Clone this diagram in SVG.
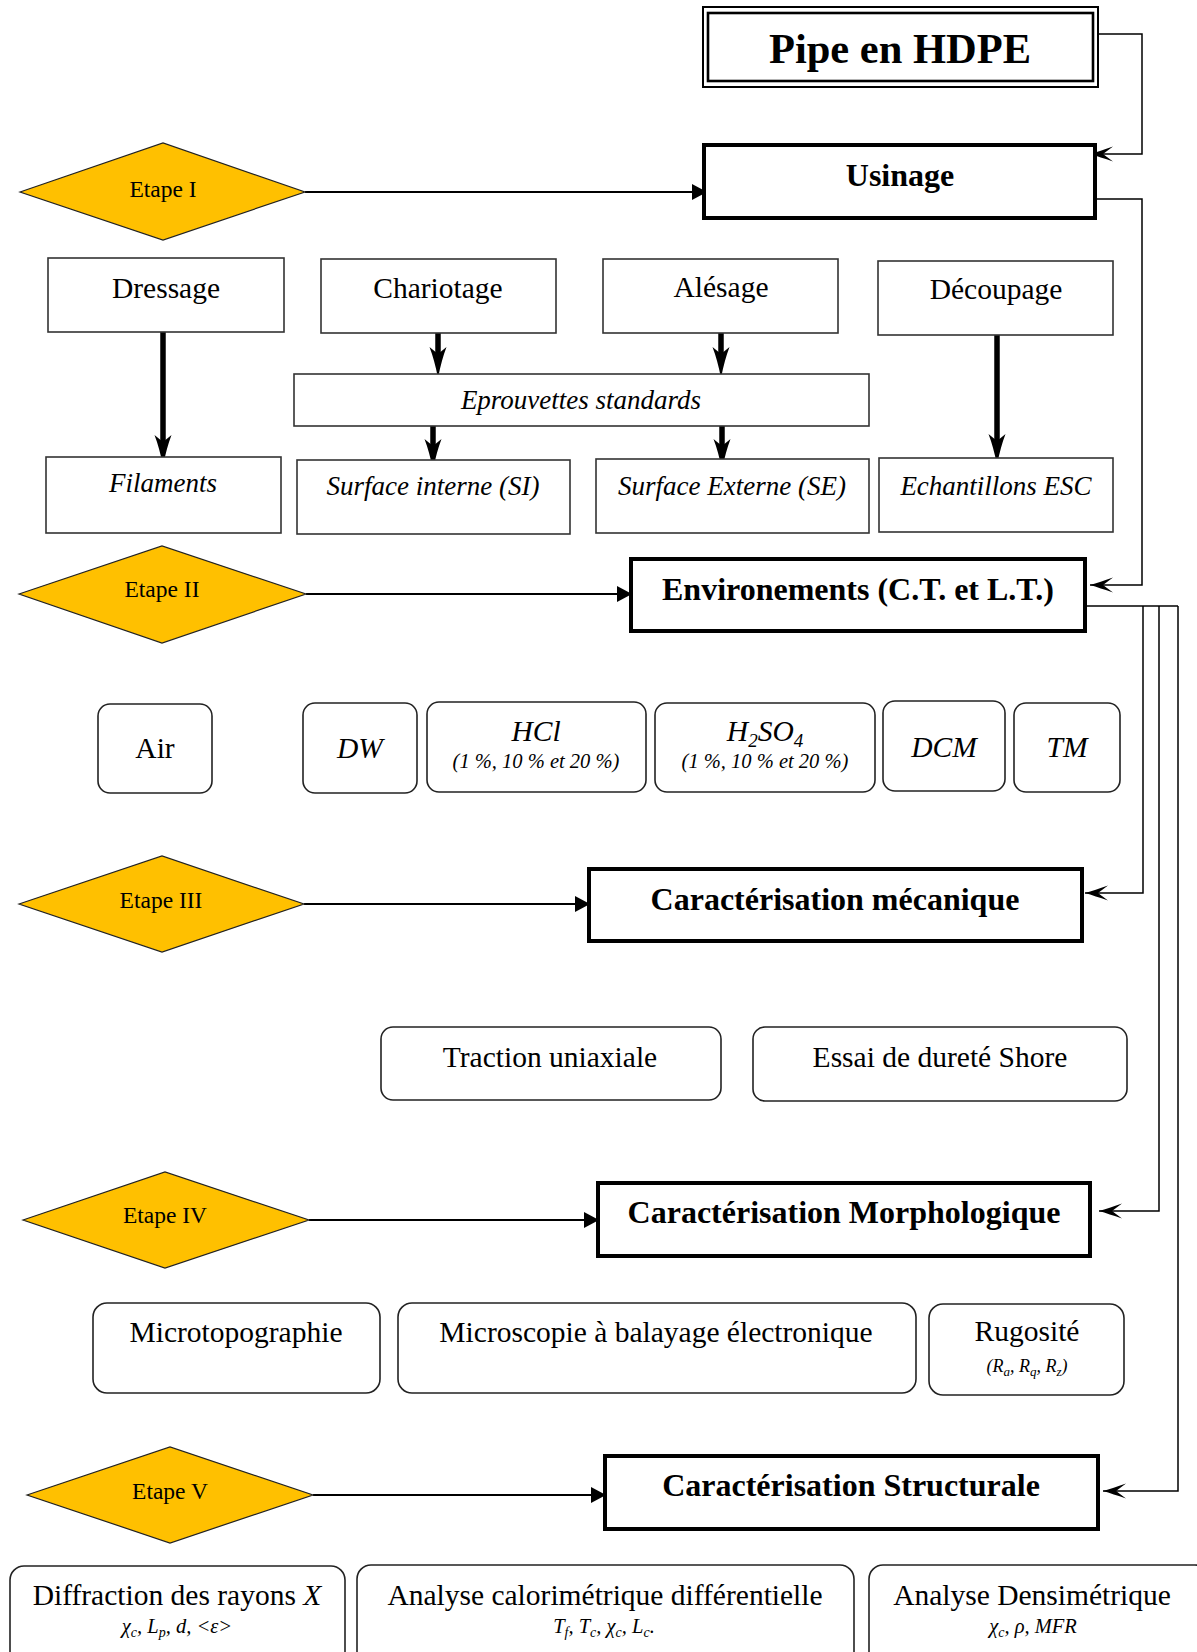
<svg xmlns="http://www.w3.org/2000/svg" width="1197" height="1652" viewBox="0 0 1197 1652">
<style>
text{font-family:"Liberation Serif","Times New Roman",serif;fill:#000;text-anchor:middle}
.box{fill:#fff;stroke:#333;stroke-width:1.6}
.rbox{fill:#fff;stroke:#222;stroke-width:1.6}
.tbox{fill:#fff;stroke:#000;stroke-width:4}
.dia{fill:#FFC000;stroke:#222;stroke-width:1.2}
.lbl{font-size:29.5px}
.it{font-size:27px;font-style:italic}
.ttl{font-size:32px;font-weight:bold}
.etp{font-size:23.5px}
.sm{font-size:20.5px;font-style:italic}
.conn{fill:none;stroke:#000;stroke-width:1.5}
.econn{fill:none;stroke:#000;stroke-width:2}
.thick{fill:none;stroke:#000;stroke-width:5.5}
</style>
<defs>
<marker id="tri" markerUnits="userSpaceOnUse" markerWidth="16" markerHeight="18" viewBox="0 0 16 18" refX="15" refY="9" orient="auto"><path d="M0,1 L15,9 L0,17 Z" fill="#000"/></marker>
<marker id="vee" markerUnits="userSpaceOnUse" markerWidth="25" markerHeight="18" viewBox="0 0 25 18" refX="24" refY="9" orient="auto"><path d="M24,9 Q14,6 1,1.5 L11,9 L1,16.5 Q14,12 24,9 Z" fill="#000"/></marker>
<marker id="stl" markerUnits="userSpaceOnUse" markerWidth="31" markerHeight="19" viewBox="0 0 31 19" refX="7" refY="9.5" orient="auto"><path d="M31,9.5 Q13,6 0,1 L7,9.5 L0,18 Q13,13 31,9.5 Z" fill="#000"/></marker>
</defs>

<g id="connectors">
<polyline class="conn" points="1098,34 1142,34 1142,154 1090,154" marker-end="url(#vee)"/>
<polyline class="conn" points="1096,199 1142,199 1142,585 1090,585" marker-end="url(#vee)"/>
<polyline class="conn" points="1085,606 1178,606"/>
<polyline class="conn" points="1143,606 1143,893 1085,893" marker-end="url(#vee)"/>
<polyline class="conn" points="1159,606 1159,1211 1099,1211" marker-end="url(#vee)"/>
<polyline class="conn" points="1178,606 1178,1491 1103,1491" marker-end="url(#vee)"/>
<line class="econn" x1="305" y1="192" x2="707" y2="192" marker-end="url(#tri)"/>
<line class="econn" x1="306" y1="594" x2="632" y2="594" marker-end="url(#tri)"/>
<line class="econn" x1="304" y1="904" x2="590" y2="904" marker-end="url(#tri)"/>
<line class="econn" x1="309" y1="1220" x2="599" y2="1220" marker-end="url(#tri)"/>
<line class="econn" x1="313" y1="1495" x2="606" y2="1495" marker-end="url(#tri)"/>
<line class="thick" x1="163" y1="332" x2="163" y2="442" marker-end="url(#stl)"/>
<line class="thick" x1="438" y1="333" x2="438" y2="354" marker-end="url(#stl)"/>
<line class="thick" x1="721" y1="333" x2="721" y2="354" marker-end="url(#stl)"/>
<line class="thick" x1="433" y1="426" x2="433" y2="446" marker-end="url(#stl)"/>
<line class="thick" x1="722" y1="426" x2="722" y2="446" marker-end="url(#stl)"/>
<line class="thick" x1="997" y1="335" x2="997" y2="441" marker-end="url(#stl)"/>
</g>

<g id="pipe">
<rect x="703" y="7" width="395" height="80" fill="#fff" stroke="#000" stroke-width="2"/>
<rect x="708" y="13" width="385" height="68" fill="none" stroke="#000" stroke-width="2.6"/>
<text x="900" y="63" style="font-size:42.5px;font-weight:bold">Pipe en HDPE</text>
</g>

<g id="usinage"><rect class="tbox" x="704" y="145" width="391" height="73"/><text class="ttl" x="900" y="186">Usinage</text></g>
<g id="etape1"><polygon class="dia" points="20,192 163,143 305,192 163,240"/><text class="etp" x="163" y="197">Etape I</text></g>

<g id="dressage"><rect class="box" x="48" y="258" width="236" height="74"/><text class="lbl" x="166" y="298">Dressage</text></g>
<g id="chariotage"><rect class="box" x="321" y="259" width="235" height="74"/><text class="lbl" x="438" y="298">Chariotage</text></g>
<g id="alesage"><rect class="box" x="603" y="259" width="235" height="74"/><text class="lbl" x="721" y="297">Alésage</text></g>
<g id="decoupage"><rect class="box" x="878" y="261" width="235" height="74"/><text class="lbl" x="996" y="299">Découpage</text></g>
<g id="eprouvettes"><rect class="box" x="294" y="374" width="575" height="52"/><text class="it" x="581" y="409">Eprouvettes standards</text></g>
<g id="filaments"><rect class="box" x="46" y="457" width="235" height="76"/><text class="it" x="163" y="492">Filaments</text></g>
<g id="si"><rect class="box" x="297" y="460" width="273" height="74"/><text class="it" x="433" y="495">Surface interne (SI)</text></g>
<g id="se"><rect class="box" x="596" y="459" width="273" height="74"/><text class="it" x="732" y="495">Surface Externe (SE)</text></g>
<g id="esc"><rect class="box" x="879" y="458" width="234" height="74"/><text class="it" x="996" y="495">Echantillons ESC</text></g>

<g id="environements"><rect class="tbox" x="631" y="559" width="454" height="72"/><text class="ttl" x="858" y="600">Environements (C.T. et L.T.)</text></g>
<g id="etape2"><polygon class="dia" points="19,594 162,546 306,594 162,643"/><text class="etp" x="162" y="597">Etape II</text></g>

<g id="air"><rect class="rbox" x="98" y="704" width="114" height="89" rx="12"/><text class="lbl" x="155" y="758">Air</text></g>
<g id="dw"><rect class="rbox" x="303" y="703" width="114" height="90" rx="12"/><text class="lbl" x="360" y="758" font-style="italic">DW</text></g>
<g id="hcl"><rect class="rbox" x="427" y="702" width="219" height="90" rx="12"/><text class="lbl" x="536" y="741" font-style="italic">HCl</text><text class="sm" x="536" y="768">(1 %, 10 % et 20 %)</text></g>
<g id="h2so4"><rect class="rbox" x="655" y="703" width="220" height="89" rx="12"/><text class="lbl" x="765" y="741" font-style="italic">H<tspan font-size="19" dy="6">2</tspan><tspan dy="-6">SO</tspan><tspan font-size="19" dy="6">4</tspan></text><text class="sm" x="765" y="768">(1 %, 10 % et 20 %)</text></g>
<g id="dcm"><rect class="rbox" x="883" y="701" width="122" height="90" rx="12"/><text class="lbl" x="944" y="757" font-style="italic">DCM</text></g>
<g id="tm"><rect class="rbox" x="1014" y="703" width="106" height="89" rx="12"/><text class="lbl" x="1067" y="757" font-style="italic">TM</text></g>

<g id="mecanique"><rect class="tbox" x="589" y="869" width="493" height="72"/><text class="ttl" x="835" y="910">Caractérisation mécanique</text></g>
<g id="etape3"><polygon class="dia" points="19,904 162,856 304,904 162,952"/><text class="etp" x="161" y="908">Etape III</text></g>
<g id="traction"><rect class="rbox" x="381" y="1027" width="340" height="73" rx="12"/><text class="lbl" x="550" y="1067">Traction uniaxiale</text></g>
<g id="shore"><rect class="rbox" x="753" y="1027" width="374" height="74" rx="12"/><text class="lbl" x="940" y="1067">Essai de dureté Shore</text></g>

<g id="morphologique"><rect class="tbox" x="598" y="1183" width="492" height="73"/><text class="ttl" x="844" y="1223">Caractérisation Morphologique</text></g>
<g id="etape4"><polygon class="dia" points="23,1220 165,1172 309,1220 165,1268"/><text class="etp" x="165" y="1223">Etape IV</text></g>
<g id="microtopo"><rect class="rbox" x="93" y="1303" width="287" height="90" rx="14"/><text class="lbl" x="236" y="1342">Microtopographie</text></g>
<g id="meb"><rect class="rbox" x="398" y="1303" width="518" height="90" rx="14"/><text class="lbl" x="656" y="1342">Microscopie à balayage électronique</text></g>
<g id="rugosite"><rect class="rbox" x="929" y="1304" width="195" height="91" rx="14"/><text class="lbl" x="1027" y="1341">Rugosité</text><text class="sm" x="1027" y="1372" style="font-size:18px">(R<tspan font-size="13" dy="4">a</tspan><tspan dy="-4">, R</tspan><tspan font-size="13" dy="4">q</tspan><tspan dy="-4">, R</tspan><tspan font-size="13" dy="4">z</tspan><tspan dy="-4">)</tspan></text></g>

<g id="structurale"><rect class="tbox" x="605" y="1456" width="493" height="73"/><text class="ttl" x="851" y="1496">Caractérisation Structurale</text></g>
<g id="etape5"><polygon class="dia" points="27,1495 170,1447 313,1495 170,1543"/><text class="etp" x="170" y="1499">Etape V</text></g>
<g id="drx"><rect class="rbox" x="10" y="1566" width="335" height="110" rx="14"/><text class="lbl" x="177" y="1605">Diffraction des rayons <tspan font-style="italic">X</tspan></text><text class="sm" x="177" y="1633">χ<tspan font-size="14" dy="4">c</tspan><tspan dy="-4">, L</tspan><tspan font-size="14" dy="4">p</tspan><tspan dy="-4">, d, &lt;ε&gt;</tspan></text></g>
<g id="dsc"><rect class="rbox" x="357" y="1565" width="497" height="110" rx="14"/><text class="lbl" x="605" y="1605">Analyse calorimétrique différentielle</text><text class="sm" x="604" y="1633">T<tspan font-size="14" dy="4">f</tspan><tspan dy="-4">, T</tspan><tspan font-size="14" dy="4">c</tspan><tspan dy="-4">, χ</tspan><tspan font-size="14" dy="4">c</tspan><tspan dy="-4">, L</tspan><tspan font-size="14" dy="4">c</tspan><tspan dy="-4">.</tspan></text></g>
<g id="densimetrique"><rect class="rbox" x="869" y="1565" width="340" height="110" rx="14"/><text class="lbl" x="1032" y="1605">Analyse Densimétrique</text><text class="sm" x="1033" y="1633">χ<tspan font-size="14" dy="4">c</tspan><tspan dy="-4">, ρ, MFR</tspan></text></g>
</svg>
